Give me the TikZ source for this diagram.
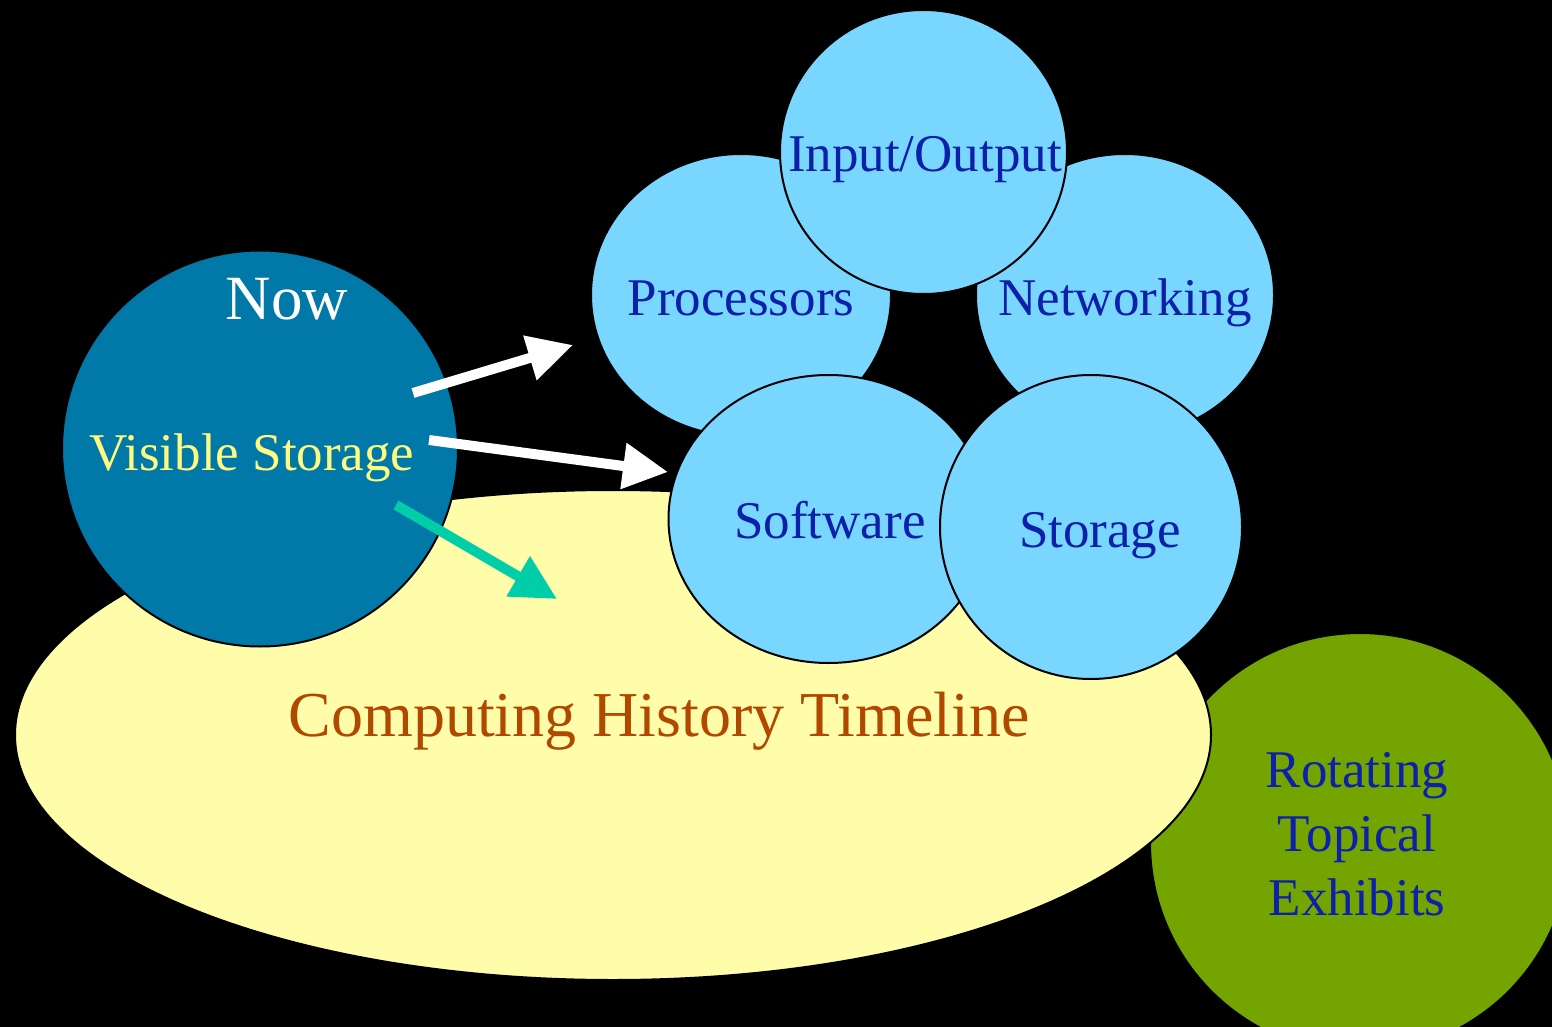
\documentclass[tikz,border=0pt]{standalone}
\usepackage{fontspec}
\setmainfont{Liberation Serif}
\usetikzlibrary{arrows.meta,shapes.geometric}

\definecolor{nowblue}{RGB}{0,120,168}
\definecolor{topicblue}{RGB}{120,214,255}
\definecolor{timeline}{RGB}{255,252,170}
\definecolor{exhibitgreen}{RGB}{115,164,0}
\definecolor{labelblue}{RGB}{12,32,170}
\definecolor{timelinetext}{RGB}{176,72,0}
\definecolor{visyellow}{RGB}{255,250,128}
\definecolor{arrowteal}{RGB}{0,206,168}

\begin{document}
\begin{tikzpicture}[x=0.5pt,y=-0.5pt,
  blob/.style={ellipse, inner sep=0pt, outer sep=0pt, draw=black, line width=1pt},
  round/.style={circle, inner sep=0pt, outer sep=0pt, draw=black, line width=1pt},
  topic/.style={blob, fill=topicblue},
  lbl/.style={anchor=base, inner sep=0pt, font=\fontsize{26.5}{32}\selectfont, text=labelblue},
  flow/.style={line width=5pt, -{Triangle[length=22.5pt,width=22pt]}}]

% canvas
\fill[black] (0,0) rectangle (1552,1027);
\useasboundingbox (0,0) rectangle (1552,1027);
\clip (0,0) rectangle (1552,1027);

% rotating exhibits, partly hidden behind the timeline
\node[round, fill=exhibitgreen, minimum size=210pt] (exhibits) at (1360,843) {};

% timeline
\node[blob, fill=timeline, minimum width=598pt, minimum height=245pt] (timeline) at (613,735) {};

% visible storage
\node[round, fill=nowblue, minimum size=198pt] (now) at (260,448.5) {};

% topic areas
\node[topic, minimum width=150pt, minimum height=141pt] (proc) at (741,295) {};
\node[topic, minimum width=149pt, minimum height=141pt] (net) at (1125,295) {};
\node[topic, minimum width=143.5pt, minimum height=142pt] (io) at (923.5,152) {};
\node[topic, minimum width=160pt, minimum height=144pt] (soft) at (828.5,519) {};
\node[topic, minimum width=151pt, minimum height=152pt] (stor) at (1091,527) {};

% labels
\node[lbl, text=white, font=\fontsize{31.5}{36}\selectfont] (nowtxt) at (287,319) {Now};
\node[lbl, text=visyellow] (vistxt) at (252,470) {Visible Storage};
\node[lbl] (proctxt) at (741,315) {Processors};
\node[lbl] (iotxt) at (925,172) {Input/Output};
\node[lbl] (nettxt) at (1125,315) {Networking};
\node[lbl] (softtxt) at (830,538) {Software};
\node[lbl] (stortxt) at (1100,547) {Storage};
\node[lbl, text=timelinetext, font=\fontsize{32}{38}\selectfont] (timetxt) at (659,736) {Computing History Timeline};
\node[lbl] (ex1) at (1357,787) {Rotating};
\node[lbl] (ex2) at (1357,851) {Topical};
\node[lbl] (ex3) at (1357,915) {Exhibits};

% flows out of visible storage
\coordinate (f1s) at (413,393);
\coordinate (f1e) at (573,345);
\coordinate (f2s) at (429,440);
\coordinate (f2e) at (668,472);
\coordinate (f3s) at (396,505);
\coordinate (f3e) at (557,599);
\draw[flow, white] (f1s) -- (f1e);
\draw[flow, white] (f2s) -- (f2e);
\draw[flow, arrowteal] (f3s) -- (f3e);
\end{tikzpicture}
\end{document}
